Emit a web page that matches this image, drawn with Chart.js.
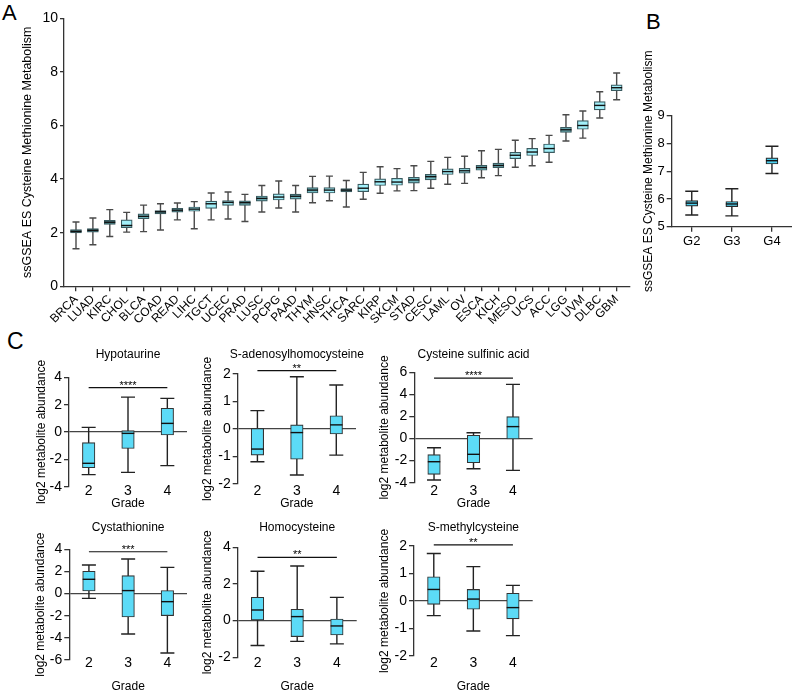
<!DOCTYPE html>
<html>
<head>
<meta charset="utf-8">
<script src="https://cdn.jsdelivr.net/npm/chart.js@4.4.1/dist/chart.umd.min.js"></script>
<style>
  body { margin:0; background:#fff; width:792px; height:695px; position:relative; overflow:hidden; font-family:"Liberation Sans", Arial, Helvetica, sans-serif; }
  canvas { position:absolute; }
  .lbl { position:absolute; font-size:22px; line-height:22px; color:#000; }
</style>
</head>
<body>
<div class="lbl" style="left:2px;top:2px">A</div>
<div class="lbl" style="left:646px;top:11px">B</div>
<div class="lbl" style="left:7px;top:330px;font-size:23px">C</div>
<script>
// ---- panel A: ssGSEA score per cancer type (min, q1, median, q3, max)
const cancers = ["BRCA","LUAD","KIRC","CHOL","BLCA","COAD","READ","LIHC","TGCT","UCEC","PRAD",
  "LUSC","PCPG","PAAD","THYM","HNSC","THCA","SARC","KIRP","SKCM","STAD","CESC","LAML","OV",
  "ESCA","KICH","MESO","UCS","ACC","LGG","UVM","DLBC","GBM"];
const aMin = [1.40,1.55,1.86,2.02,2.04,2.10,2.48,2.15,2.48,2.51,2.42,2.77,2.92,2.77,3.12,3.19,2.96,
  3.25,3.47,3.56,3.57,3.66,3.81,3.84,4.05,4.13,4.44,4.50,4.63,5.42,5.53,6.28,6.96];
const aQ1 = [1.99,2.02,2.31,2.19,2.52,2.70,2.77,2.80,2.91,3.02,3.02,3.18,3.22,3.25,3.48,3.48,3.52,
  3.53,3.76,3.77,3.85,3.97,4.17,4.22,4.33,4.43,4.76,4.88,4.99,5.74,5.86,6.58,7.30];
const aMed = [2.05,2.09,2.39,2.27,2.61,2.78,2.84,2.88,3.08,3.13,3.12,3.28,3.33,3.36,3.59,3.59,3.59,
  3.66,3.90,3.89,3.97,4.09,4.28,4.31,4.43,4.51,4.89,5.01,5.14,5.84,6.00,6.75,7.41];
const aQ3 = [2.12,2.15,2.46,2.48,2.70,2.83,2.91,2.96,3.18,3.20,3.19,3.37,3.45,3.44,3.68,3.68,3.65,
  3.81,4.01,4.03,4.07,4.18,4.38,4.40,4.51,4.60,5.00,5.15,5.31,5.93,6.18,6.89,7.52];
const aMax = [2.40,2.55,2.86,2.76,3.03,3.08,3.11,3.16,3.48,3.52,3.43,3.76,3.93,3.76,4.10,4.11,3.95,
  4.25,4.46,4.39,4.50,4.66,4.81,4.85,5.06,5.11,5.45,5.51,5.63,6.40,6.54,7.26,7.96];

// ---- panel B: glioma grades, rows are [min, q1, median, q3, max]
const gliomaGrades = ["G2","G3","G4"];
const gliomaScore = [[5.42,5.74,5.85,5.94,6.28],[5.39,5.72,5.82,5.91,6.37],[6.92,7.26,7.38,7.48,7.90]];

// ---- panel C: metabolites by grade, rows are [min, q1, median, q3, max]
const grades = ["2","3","4"];
const hypotaurine = [[-3.12,-2.61,-2.29,-0.78,0.34],[-2.95,-1.20,-0.10,0.10,2.55],[-2.46,-0.22,0.63,1.73,2.46]];
const adoHcy = [[-1.19,-0.95,-0.73,0.02,0.67],[-1.67,-1.10,-0.13,0.15,1.90],[-0.95,-0.18,0.15,0.48,1.60]];
const sulfinic = [[-3.76,-3.24,-2.10,-1.46,-0.83],[-2.73,-2.19,-1.43,0.29,0.53],[-2.88,-0.04,1.08,1.98,4.91]];
const cystathionine = [[-0.43,0.23,1.29,2.01,2.58],[-3.65,-2.11,0.27,1.62,3.13],[-5.37,-1.99,-0.73,0.27,2.37]];
const homocysteine = [[-1.36,0.00,0.58,1.27,2.69],[-1.13,-0.87,0.22,0.62,2.98],[-1.27,-0.78,-0.29,0.09,1.27]];
const methylcys = [[-0.53,-0.12,0.42,0.88,1.73],[-1.09,-0.30,0.07,0.42,1.25],[-1.26,-0.65,-0.24,0.28,0.57]];

// box shading in panel A (D dark, M mid, L light) - styling only
const aShade = "DDDLMDMLLLMMLMMLDLLLMMLLMMLLLMLLL";
const shadeColor = {D: '#4f8d93', M: '#72b9c0', L: '#a2f0fa'};

const fontFam = '"Liberation Sans", Arial, Helvetica, sans-serif';
Chart.defaults.font.family = fontFam;
Chart.defaults.color = '#000';
Chart.defaults.animation = false;
Chart.defaults.plugins.legend.display = false;
Chart.defaults.plugins.tooltip.enabled = false;

// whiskers + caps behind the box, median line on top
const boxPlot = {
  id: 'boxPlot',
  beforeDatasetsDraw(chart, args, o) {
    const ctx = chart.ctx, y = chart.scales.y;
    chart.data.datasets.forEach((ds, di) => {
      chart.getDatasetMeta(di).data.forEach((bar, i) => {
        const s = ds.stats[i];
        const lo = y.getPixelForValue(s[0]), hi = y.getPixelForValue(s[4]);
        ctx.save();
        ctx.strokeStyle = o.whisker;
        ctx.lineWidth = o.lineWidth;
        ctx.beginPath();
        ctx.moveTo(bar.x, lo); ctx.lineTo(bar.x, hi);
        ctx.moveTo(bar.x - o.cap / 2, lo); ctx.lineTo(bar.x + o.cap / 2, lo);
        ctx.moveTo(bar.x - o.cap / 2, hi); ctx.lineTo(bar.x + o.cap / 2, hi);
        ctx.stroke();
        ctx.restore();
      });
    });
  },
  afterDatasetsDraw(chart, args, o) {
    const ctx = chart.ctx, y = chart.scales.y;
    chart.data.datasets.forEach((ds, di) => {
      chart.getDatasetMeta(di).data.forEach((bar, i) => {
        const py = y.getPixelForValue(ds.stats[i][2]);
        ctx.save();
        ctx.strokeStyle = o.median;
        ctx.lineWidth = o.lineWidth;
        ctx.beginPath();
        ctx.moveTo(bar.x - bar.width / 2, py); ctx.lineTo(bar.x + bar.width / 2, py);
        ctx.stroke();
        ctx.restore();
      });
    });
  }
};

// title over the plot, "Grade" under it, significance bracket between grade 2 and grade 4
const cExtras = {
  id: 'cExtras',
  afterDraw(chart, args, o) {
    const {ctx, chartArea, scales} = chart;
    const cx = (chartArea.left + chartArea.right) / 2;
    ctx.save();
    ctx.fillStyle = '#000';
    ctx.textAlign = 'center';
    ctx.textBaseline = 'middle';
    ctx.font = '12px ' + fontFam;
    ctx.fillText(o.title, cx, o.titleY);
    ctx.fillText(o.xTitle, cx, o.xTitleY);
    const x1 = scales.x.getPixelForValue(0), x2 = scales.x.getPixelForValue(2);
    const py = scales.y.getPixelForValue(o.sigAt);
    ctx.strokeStyle = '#111';
    ctx.lineWidth = 1.2;
    ctx.beginPath(); ctx.moveTo(x1, py); ctx.lineTo(x2, py); ctx.stroke();
    ctx.font = '11px ' + fontFam;
    ctx.textBaseline = 'alphabetic';
    ctx.fillText(o.stars, (x1 + x2) / 2, py + 1);
    ctx.restore();
  }
};

function makeCanvas(left, top, w, h) {
  const c = document.createElement('canvas');
  c.width = w; c.height = h;
  c.style.left = left + 'px'; c.style.top = top + 'px';
  c.style.width = w + 'px'; c.style.height = h + 'px';
  document.body.appendChild(c);
  return c;
}

const axisColor = '#333';

// ---------- Panel A
new Chart(makeCanvas(0, 0, 640, 330), {
  type: 'bar',
  data: {
    datasets: [{
      data: cancers.map((c, i) => ({x: i, y: [aQ1[i], aQ3[i]]})),
      stats: cancers.map((c, i) => [aMin[i], aQ1[i], aMed[i], aQ3[i], aMax[i]]),
      backgroundColor: cancers.map((c, i) => shadeColor[aShade[i]]),
      borderColor: '#3a5a5f',
      borderWidth: 1.2,
      borderSkipped: false,
      barThickness: 11
    }]
  },
  plugins: [boxPlot],
  options: {
    responsive: false,
    layout: {padding: {top: 18.3, right: 10, left: 0, bottom: 0}},
    plugins: {boxPlot: {whisker: '#4a4a4a', median: '#111', lineWidth: 1.4, cap: 7}},
    scales: {
      x: {
        type: 'linear', min: -0.71, max: 32.79, offset: false,
        afterBuildTicks: s => { s.ticks = cancers.map((c, i) => ({value: i})); },
        ticks: {callback: v => cancers[v], autoSkip: false, minRotation: 45, maxRotation: 45,
                font: {size: 12}, padding: 1},
        grid: {drawOnChartArea: false, offset: false, tickLength: 5, color: axisColor, lineWidth: 1.3},
        border: {display: true, color: axisColor, width: 1.3},
        afterFit: s => { s.height = 43.7; }
      },
      y: {
        min: 0, max: 10,
        ticks: {stepSize: 2, font: {size: 14}, padding: 2},
        grid: {drawOnChartArea: false, tickLength: 4, color: axisColor, lineWidth: 1.3},
        border: {display: true, color: axisColor, width: 1.3},
        title: {display: true, text: 'ssGSEA ES Cysteine Methionine Metabolism',
                font: {size: 12.5}, padding: {top: 20, bottom: 0}},
        afterFit: s => { s.width = 64; }
      }
    }
  }
});

// ---------- Panel B
new Chart(makeCanvas(630, 40, 162, 260), {
  type: 'bar',
  data: {
    labels: gliomaGrades,
    datasets: [{
      data: gliomaScore.map(r => [r[1], r[3]]),
      stats: gliomaScore,
      backgroundColor: '#4dcfee',
      borderColor: '#2a2a2a',
      borderWidth: 1.2,
      borderSkipped: false,
      barThickness: 12
    }]
  },
  plugins: [boxPlot],
  options: {
    responsive: false,
    layout: {padding: {top: 75.8, right: 0, left: 0, bottom: 0}},
    plugins: {boxPlot: {whisker: '#222', median: '#111', lineWidth: 1.4, cap: 13}},
    scales: {
      x: {
        ticks: {font: {size: 13}, padding: 2.2},
        grid: {drawOnChartArea: false, offset: false, tickLength: 5, color: axisColor, lineWidth: 1.3},
        border: {display: true, color: axisColor, width: 1.3},
        afterFit: s => { s.height = 73.3; }
      },
      y: {
        min: 5, max: 9,
        ticks: {stepSize: 1, font: {size: 13}, padding: 2},
        grid: {drawOnChartArea: false, tickLength: 5, color: axisColor, lineWidth: 1.3},
        border: {display: true, color: axisColor, width: 1.3},
        title: {display: true, text: 'ssGSEA ES Cysteine Methionine Metabolism',
                font: {size: 12}, padding: {top: 11.8, bottom: 0}},
        afterFit: s => { s.width = 41.7; }
      }
    }
  }
});

// ---------- Panel C
const cRows = [
  {canvasTop: 340, titleY: 355, labelY: 490.7, gradeY: 503.3},
  {canvasTop: 512, titleY: 527.7, labelY: 662.7, gradeY: 686.7}
];
const cCols = [0, 190, 365];
const cCharts = [
  {title: 'Hypotaurine', rows: hypotaurine, min: -4, max: 4, step: 2, stars: '****', sigAt: 3.24,
   r: 0, c: 0, axisX: 69, right: 187, top: 377.3, bottom: 486.7, yTitleX: 41.5},
  {title: 'S-adenosylhomocysteine', rows: adoHcy, min: -2, max: 2, step: 1, stars: '**', sigAt: 2.12,
   r: 0, c: 1, axisX: 237.7, right: 356, top: 374, bottom: 484, yTitleX: 208},
  {title: 'Cysteine sulfinic acid', rows: sulfinic, min: -4, max: 6, step: 2, stars: '****', sigAt: 5.48,
   r: 0, c: 2, axisX: 414.3, right: 532.7, top: 372.3, bottom: 482.7, yTitleX: 385},
  {title: 'Cystathionine', rows: cystathionine, min: -6, max: 4, step: 2, stars: '***', sigAt: 3.78,
   r: 1, c: 0, axisX: 69.3, right: 187, top: 549.3, bottom: 660, yTitleX: 40.5},
  {title: 'Homocysteine', rows: homocysteine, min: -2, max: 4, step: 1, stars: '**', sigAt: 3.45,
   r: 1, c: 1, axisX: 237.7, right: 356.7, top: 547.3, bottom: 657.3, yTitleX: 208},
  {title: 'S-methylcysteine', rows: methylcys, min: -2, max: 2, step: 1, stars: '**', sigAt: 2.04,
   r: 1, c: 2, axisX: 414, right: 532.7, top: 546, bottom: 656, yTitleX: 385}
];

cCharts.forEach(m => {
  const row = cRows[m.r];
  const x0 = cCols[m.c];
  const w = Math.round(m.right + 13 - x0);
  const h = Math.round(row.gradeY + 10 - row.canvasTop);
  const tickFont = 14;
  new Chart(makeCanvas(x0, row.canvasTop, w, h), {
    type: 'bar',
    data: {
      labels: grades,
      datasets: [{
        data: m.rows.map(r => [r[1], r[3]]),
        stats: m.rows,
        backgroundColor: '#5cdbf7',
        borderColor: '#333',
        borderWidth: 1.1,
        borderSkipped: false,
        barThickness: 12.5
      }]
    },
    plugins: [boxPlot, cExtras],
    options: {
      responsive: false,
      layout: {padding: {top: m.top - row.canvasTop, right: x0 + w - m.right, left: 0,
                         bottom: row.canvasTop + h - m.bottom}},
      plugins: {
        boxPlot: {whisker: '#222', median: '#111', lineWidth: 1.4, cap: 14},
        cExtras: {title: m.title, titleY: row.titleY - row.canvasTop, stars: m.stars, sigAt: m.sigAt,
                  xTitle: 'Grade', xTitleY: row.gradeY - row.canvasTop}
      },
      scales: {
        x: {
          // axis pinned at the bottom of the value range, labels sit just under it
          position: {y: m.min},
          ticks: {font: {size: tickFont}, padding: (row.labelY - m.bottom) - tickFont * 0.6},
          grid: {display: false, drawTicks: false},
          border: {display: false}
        },
        y: {
          min: m.min, max: m.max,
          ticks: {stepSize: m.step, font: {size: tickFont}, padding: 2},
          grid: {
            drawOnChartArea: true,
            color: c => (c.tick && c.tick.value === 0) ? '#444' : 'rgba(0,0,0,0)',
            tickColor: axisColor, lineWidth: 1.3, tickLength: 5
          },
          border: {display: true, color: axisColor, width: 1.3},
          title: {display: true, text: 'log2 metabolite abundance', font: {size: 12},
                  padding: {top: m.yTitleX - x0 - 7.2, bottom: 0}},
          afterFit: s => { s.width = m.axisX - x0; }
        }
      }
    }
  });
});
</script>
</body>
</html>
